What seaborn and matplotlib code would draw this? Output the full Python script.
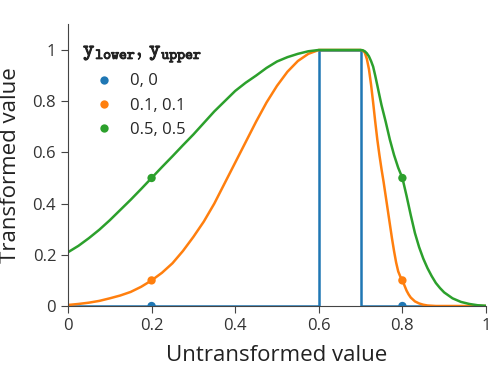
import numpy as np
import pandas as pd
import seaborn as sns
import matplotlib.pyplot as plt
import matplotlib.patheffects as pe

# curve values
x_blue = [0.0, 0.6, 0.6, 0.7, 0.7, 1.0]
y_blue = [0.0, 0.0, 1.0, 1.0, 0.0, 0.0]

x_orange = [0.0, 0.025, 0.05, 0.075, 0.1, 0.125, 0.15, 0.175, 0.2, 0.225, 0.25, 0.275,
            0.3, 0.325, 0.35, 0.375, 0.4, 0.425, 0.45, 0.475, 0.5, 0.525, 0.55, 0.575,
            0.6, 0.65, 0.7, 0.705, 0.71, 0.715, 0.72, 0.725, 0.73, 0.735, 0.74, 0.745,
            0.75, 0.755, 0.76, 0.765, 0.77, 0.775, 0.78, 0.785, 0.79, 0.795, 0.8, 0.805,
            0.81, 0.815, 0.82, 0.83, 0.84, 0.85, 0.86, 0.88, 1.0]
y_orange = [0.004, 0.008, 0.013, 0.02, 0.03, 0.041, 0.055, 0.075, 0.10, 0.13, 0.167, 0.215,
            0.27, 0.33, 0.40, 0.48, 0.56, 0.64, 0.72, 0.795, 0.86, 0.915, 0.957, 0.985,
            1.0, 1.0, 1.0, 0.998, 0.99, 0.965, 0.925, 0.865, 0.795, 0.72, 0.65, 0.59,
            0.535, 0.485, 0.43, 0.375, 0.32, 0.265, 0.215, 0.17, 0.135, 0.115, 0.10, 0.08,
            0.06, 0.045, 0.033, 0.018, 0.01, 0.005, 0.002, 0.0, 0.0]

x_green = [0.0, 0.025, 0.05, 0.075, 0.1, 0.125, 0.15, 0.175, 0.2, 0.225, 0.25, 0.275,
           0.3, 0.325, 0.35, 0.375, 0.4, 0.425, 0.45, 0.475, 0.5, 0.525, 0.55, 0.575,
           0.6, 0.65, 0.7, 0.705, 0.71, 0.715, 0.72, 0.725, 0.73, 0.735, 0.74, 0.745,
           0.75, 0.76, 0.77, 0.78, 0.79, 0.8, 0.81, 0.82, 0.83, 0.84, 0.85, 0.86, 0.87,
           0.88, 0.89, 0.9, 0.92, 0.94, 0.96, 0.98, 1.0]
y_green = [0.21, 0.235, 0.265, 0.298, 0.335, 0.375, 0.415, 0.457, 0.5, 0.543, 0.585, 0.628,
           0.67, 0.715, 0.76, 0.80, 0.84, 0.872, 0.90, 0.93, 0.955, 0.972, 0.985, 0.995,
           1.0, 1.0, 1.0, 0.999, 0.995, 0.987, 0.975, 0.957, 0.935, 0.90, 0.862, 0.823,
           0.785, 0.72, 0.65, 0.59, 0.54, 0.5, 0.43, 0.355, 0.285, 0.23, 0.185, 0.148, 0.117,
           0.09, 0.07, 0.053, 0.03, 0.016, 0.008, 0.003, 0.001]

labels = ['0, 0', '0.1, 0.1', '0.5, 0.5']
pt_x = [0.2, 0.8]
y_lower = [0.0, 0.1, 0.5]
y_upper = [0.0, 0.1, 0.5]

curves = pd.concat([
    pd.DataFrame({'x': x_blue, 'y': y_blue, 'k': labels[0]}),
    pd.DataFrame({'x': x_orange, 'y': y_orange, 'k': labels[1]}),
    pd.DataFrame({'x': x_green, 'y': y_green, 'k': labels[2]}),
], ignore_index=True)
points = pd.DataFrame({
    'x': pt_x * 3,
    'y': [v for lo, up in zip(y_lower, y_upper) for v in (lo, up)],
    'k': [lab for lab in labels for _ in pt_x],
})

sns.set_style('ticks')
plt.rcParams['font.family'] = ['Open Sans', 'DejaVu Sans']
plt.rcParams['mathtext.fontset'] = 'cm'

pal = sns.color_palette('tab10', 3)
fig = plt.figure(figsize=(4.98, 3.74), dpi=100)
ax = fig.add_axes([0.1365, 0.1818, 0.8394, 0.753])

sns.lineplot(data=curves, x='x', y='y', hue='k', palette=pal, estimator=None,
             sort=False, units='k', lw=1.8, legend=False, ax=ax)
sns.scatterplot(data=points, x='x', y='y', hue='k', palette=pal, s=36,
                linewidth=0, zorder=5, ax=ax)

ax.set_xlim(0, 1)
ax.set_ylim(0, 1.1)
ticks = [0, 0.2, 0.4, 0.6, 0.8, 1]
ax.set_xticks(ticks)
ax.set_yticks(ticks)
ax.set_xticklabels(['0', '0.2', '0.4', '0.6', '0.8', '1'])
ax.set_yticklabels(['0', '0.2', '0.4', '0.6', '0.8', '1'])
ax.tick_params(labelsize=12, length=5, color='#444444', labelcolor='#333333')
ax.set_xlabel('Untransformed value', fontsize=16, color='#222222', labelpad=8)
ax.set_ylabel('Transformed value', fontsize=16, color='#222222', labelpad=8)
for s in ['left', 'bottom']:
    ax.spines[s].set_color('#444444')
sns.despine(ax=ax)

leg = ax.legend(title=r'$\mathtt{y_{lower},\, y_{upper}}$', loc='upper left',
                bbox_to_anchor=(0.0, 1.0), frameon=False, fontsize=12,
                title_fontsize=15.5, alignment='left', handlelength=2.5,
                handletextpad=0.35)
leg.get_title().set_path_effects([pe.withStroke(linewidth=0.7, foreground='#222222')])
leg.get_title().set_color('#222222')

fig.savefig('out.png', dpi=100)
